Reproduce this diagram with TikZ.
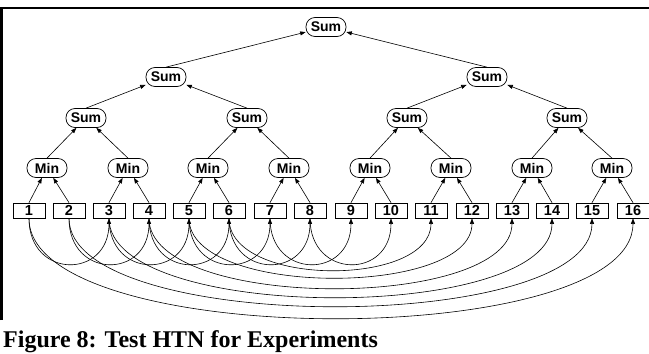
\documentclass[tikz,border=0pt]{standalone}
\usepackage{fontspec}
\setmainfont{Liberation Serif}
\setsansfont{Liberation Sans}
\usetikzlibrary{arrows.meta}
\begin{document}
\begin{tikzpicture}[x=1pt,y=-1pt,
  op/.style={draw, line width=0.7pt, rounded corners=9pt, minimum width=40pt, minimum height=19pt, inner sep=0pt, font=\sffamily\bfseries\fontsize{14}{14}\selectfont},
  task/.style={draw, line width=0.7pt, minimum width=32pt, minimum height=15pt, inner sep=0pt, font=\sffamily\bfseries\fontsize{14.5}{14.5}\selectfont},
  arr/.style={-{Triangle[length=5.5pt,width=4pt]}, line width=0.6pt},
  frame/.style={line width=2.6pt, line join=miter},
]
\useasboundingbox (0,0) rectangle (649,354);
\coordinate (fa) at (1.3,320);
\coordinate (fb) at (1.3,8);
\coordinate (fc) at (649,8);
\draw[frame] (fa) -- (fb) -- (fc);

\node[op] (s0) at (326,27) {Sum};
\node[op] (s1) at (166,77) {Sum};
\node[op] (s2) at (487,77) {Sum};
\foreach \n/\x in {1/86,2/247,3/407,4/567}
  \node[op] (t\n) at (\x,118) {Sum};
\foreach \n/\x in {1/47,2/128,3/208,4/289,5/370,6/451,7/532,8/612}
  \node[op] (m\n) at (\x,168) {Min};
\foreach \n/\x in {1/29,2/69,3/109,4/149,5/189,6/229,7/270,8/310,9/351,10/391,11/431,12/472,13/512,14/552,15/592,16/633}
  \node[task] (b\n) at (\x,210.5) {\n};

% tree edges
\draw[arr] (s1.north) -- (s0);
\draw[arr] (s2.north) -- (s0);
\draw[arr] (t1.north) -- (s1);
\draw[arr] (t2.north) -- (s1);
\draw[arr] (t3.north) -- (s2);
\draw[arr] (t4.north) -- (s2);
\foreach \c/\p in {1/1,2/1,3/2,4/2,5/3,6/3,7/4,8/4}
  \draw[arr] (m\c.north) -- (t\p);
\foreach \c/\p in {1/1,2/1,3/2,4/2,5/3,6/3,7/4,8/4,9/5,10/5,11/6,12/6,13/7,14/7,15/8,16/8}
  \draw[arr] (b\c.north) -- (m\p);

% ordering curves
\foreach \a/\b in {1/3,2/4,3/5,4/6,5/7,6/8,7/9,8/10}
  \draw[arr] (b\a.south) .. controls +(0,61) and +(0,61) .. (b\b.south);
\foreach \a/\b/\h in {6/11/69,5/12/79,4/13/93,3/14/105,2/15/117,1/16/133}
  \draw[arr] (b\a.south) .. controls +(0,\h) and +(0,\h) .. (b\b.south);

\node[anchor=base west, inner sep=0pt, font=\rmfamily\bfseries\fontsize{24}{24}\selectfont] (cap) at (3,347) {Figure 8: Test HTN for Experiments};
\end{tikzpicture}
\end{document}
